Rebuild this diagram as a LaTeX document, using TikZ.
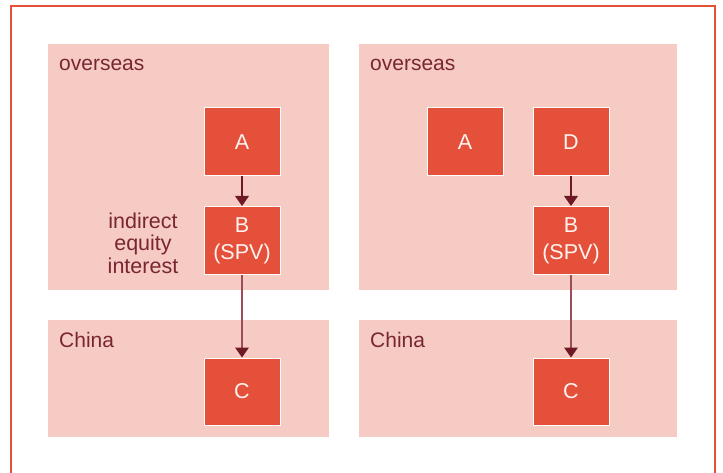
\documentclass[tikz,border=0pt]{standalone}
\usepackage{fontspec}
\setmainfont{Liberation Sans}
\usetikzlibrary{arrows.meta}
\definecolor{frameRed}{HTML}{E5503B}
\definecolor{panelPink}{HTML}{F6CBC4}
\definecolor{boxRed}{HTML}{E5503B}
\definecolor{labelDark}{HTML}{7A2632}
\definecolor{arrowDark}{HTML}{6E1A26}
\definecolor{arrowSoft}{HTML}{9C4D59}
\definecolor{boxText}{HTML}{FFF3EF}
\tikzset{
  panel/.style={fill=panelPink, draw=none, inner sep=0pt, anchor=north west},
  entity/.style={fill=boxRed, draw=white, line width=1pt, minimum width=76pt,
    minimum height=68pt, inner sep=0pt, text=boxText, align=center,
    font=\fontsize{21.5}{27}\selectfont},
  region/.style={anchor=base west, inner sep=0pt, text=labelDark,
    font=\fontsize{21}{23}\selectfont},
  note/.style={inner sep=0pt, text=labelDark, align=center,
    font=\fontsize{21.5}{22.5}\selectfont},
  link/.style={line width=1.5pt,
    -{Triangle[width=14pt,length=10pt,color=arrowDark,fill=arrowDark,line width=0pt]}},
}
\begin{document}
\begin{tikzpicture}[x=1pt, y=-1pt]
  \useasboundingbox (0,0) rectangle (723,473);
  % outer frame, open at the bottom edge of the page
  \draw[frameRed, line width=2pt] (11,490) -- (11,6) -- (715,6) -- (715,490);

  % regions
  \node[panel, minimum width=281pt, minimum height=246pt] (ovL) at (48,44) {};
  \node[panel, minimum width=318pt, minimum height=246pt] (ovR) at (359,44) {};
  \node[panel, minimum width=281pt, minimum height=117pt] (cnL) at (48,320) {};
  \node[panel, minimum width=318pt, minimum height=117pt] (cnR) at (359,320) {};

  \node[region] (ovLlabel) at (59,71) {overseas};
  \node[region] (ovRlabel) at (370,71) {overseas};
  \node[region] (cnLlabel) at (59,347) {China};
  \node[region] (cnRlabel) at (370,347) {China};

  % left structure
  \node[entity] (aL) at (242,142) {A};
  \node[entity] (bL) at (242,240.5) {B\\(SPV)};
  \node[entity, minimum height=67pt] (cL) at (242,391.5) {C};
  \node[note] (equity) at (143,243) {indirect\\equity\\interest};

  % right structure
  \node[entity] (aR) at (465,142) {A};
  \node[entity] (dR) at (571,142) {D};
  \node[entity] (bR) at (571,240.5) {B\\(SPV)};
  \node[entity, minimum height=67pt] (cR) at (571,391.5) {C};

  % ownership links
  \draw[link, arrowDark] (aL) -- (bL);
  \draw[link, arrowSoft] (bL) -- (cL);
  \draw[link, arrowDark] (dR) -- (bR);
  \draw[link, arrowSoft] (bR) -- (cR);
\end{tikzpicture}
\end{document}
